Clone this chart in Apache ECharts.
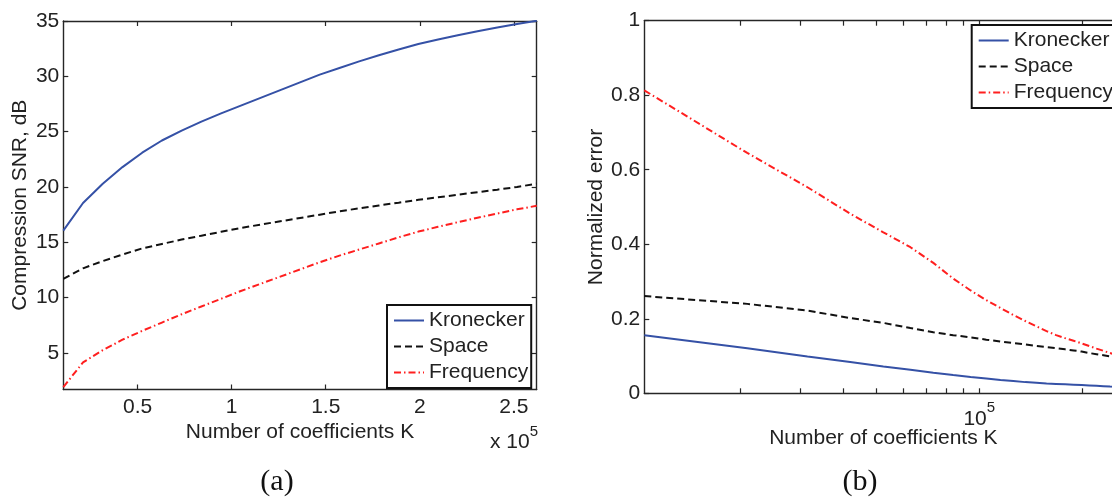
<!DOCTYPE html>
<html>
<head>
<meta charset="utf-8">
<script src="https://cdn.jsdelivr.net/npm/echarts@6/dist/echarts.min.js"></script>
<style>
  html, body { margin: 0; padding: 0; background: #fff; overflow: hidden; width: 1112px; height: 499px; }
  #chart { width: 1140px; height: 499px; }
</style>
</head>
<body>
<div id="chart"></div>
<script>
// Number of retained coefficients K (shared by both panels)
const K = [10486, 20972, 31457, 41943, 52429, 62915, 73400, 83886, 94372, 104858,
           115343, 125829, 136315, 146801, 157286, 167772, 178258, 188744, 199229, 209715,
           220201, 230687, 241172, 251658, 262144];

// (a) compression SNR in dB
const snrKronecker = [16.06, 18.55, 20.3, 21.8, 23.1, 24.2, 25.1, 25.9, 26.65, 27.35,
                      28.05, 28.75, 29.45, 30.15, 30.75, 31.35, 31.9, 32.42, 32.92, 33.33,
                      33.72, 34.07, 34.41, 34.73, 35.02];
const snrSpace = [11.7, 12.65, 13.3, 13.9, 14.45, 14.85, 15.25, 15.6, 15.95, 16.3,
                  16.6, 16.9, 17.2, 17.5, 17.8, 18.07, 18.33, 18.58, 18.84, 19.07,
                  19.3, 19.53, 19.76, 20.0, 20.3];
const snrFrequency = [1.92, 4.15, 5.25, 6.2, 7.0, 7.75, 8.5, 9.2, 9.9, 10.6,
                      11.25, 11.9, 12.55, 13.2, 13.8, 14.35, 14.9, 15.45, 15.97, 16.4,
                      16.82, 17.22, 17.6, 17.98, 18.3];

// (b) normalized error
const errKronecker = [0.156, 0.121, 0.099, 0.084, 0.072, 0.063, 0.055, 0.049, 0.044, 0.040,
                      0.036, 0.033, 0.030, 0.028, 0.026, 0.025, 0.024, 0.023, 0.022, 0.021,
                      0.020, 0.019, 0.018, 0.0175, 0.017];
const errSpace = [0.261, 0.24, 0.222, 0.202, 0.189, 0.175, 0.164, 0.156, 0.150, 0.144,
                  0.139, 0.135, 0.131, 0.127, 0.124, 0.121, 0.118, 0.115, 0.112, 0.108,
                  0.105, 0.102, 0.099, 0.096, 0.094];
const errFrequency = [0.813, 0.645, 0.553, 0.482, 0.432, 0.392, 0.35, 0.308, 0.276, 0.25,
                      0.229, 0.21, 0.194, 0.18, 0.167, 0.156, 0.148, 0.141, 0.134, 0.127,
                      0.12, 0.114, 0.108, 0.103, 0.098];

// Tick positions
const snrTicks = [5, 10, 15, 20, 25, 30, 35];
const kLinearTicks = [50000, 100000, 150000, 200000, 250000];
const kLogTicks = [20000, 30000, 40000, 50000, 60000, 70000, 80000, 90000, 100000, 200000];
const kLogLabels = [100000];
const seriesNames = ['Kronecker', 'Space', 'Frequency'];

const FONT = '"Liberation Sans", Arial, Helvetica, sans-serif';
const SERIF = '"Liberation Serif", "DejaVu Serif", serif';
const FS = 21;
const TEXT = '#222';
const AXIS = '#262626';
const styles = {
  Kronecker: { color: '#3551a6', width: 2, type: 'solid' },
  Space: { color: '#111', width: 2, type: [7, 4] },
  Frequency: { color: '#ff1f1f', width: 2, type: [7, 3, 1.5, 3] }
};

const chart = echarts.init(document.getElementById('chart'), null, { renderer: 'canvas' });

function pairs(ys) { return K.map((k, i) => [k, ys[i]]); }

function lineSeries(name, ys, xi, yi) {
  const s = styles[name];
  return {
    name, type: 'line', xAxisIndex: xi, yAxisIndex: yi,
    data: pairs(ys), symbol: 'none', smooth: false, animation: false,
    lineStyle: { color: s.color, width: s.width, type: s.type },
    itemStyle: { color: s.color }
  };
}

const tickBase = { show: true, inside: true, length: 5, lineStyle: { color: AXIS, width: 1.2 } };
const lineBase = { show: true, onZero: false, lineStyle: { color: AXIS, width: 1.4 } };
const labelBase = { color: TEXT, fontFamily: FONT, fontSize: FS };
const supRich = {
  m: { fontFamily: FONT, fontSize: FS, color: TEXT, lineHeight: 29, verticalAlign: 'bottom' },
  s: { fontFamily: FONT, fontSize: 15, color: TEXT, lineHeight: 15, verticalAlign: 'top' }
};

function legendAt(left, top) {
  return {
    orient: 'vertical', left, top,
    itemWidth: 30, itemHeight: 20, itemGap: 5,
    padding: [5, 3, 5, 6],
    borderColor: '#111', borderWidth: 2, backgroundColor: '#fff',
    selectedMode: false,
    itemStyle: { opacity: 0 },
    lineStyle: { width: 2 },
    textStyle: { color: TEXT, fontFamily: FONT, fontSize: FS, lineHeight: 20 },
    data: seriesNames
  };
}

const option = {
  backgroundColor: '#fff',
  animation: false,
  grid: [
    { left: 63.3, top: 21, width: 473.4, height: 368.5 },
    { left: 644.3, top: 20.7, width: 478.1, height: 372.6 }
  ],
  legend: [legendAt(387, 305), legendAt(971.7, 25)],
  xAxis: [
    { // (a) bottom
      type: 'value', gridIndex: 0, min: K[0], max: K[K.length - 1],
      axisLine: lineBase, splitLine: { show: false },
      axisTick: Object.assign({}, tickBase, { customValues: kLinearTicks }),
      axisLabel: Object.assign({}, labelBase, { customValues: kLinearTicks, margin: 7,
        formatter: v => String(+(v / 1e5).toFixed(1)) }),
      name: 'Number of coefficients K', nameLocation: 'middle', nameGap: 32,
      nameMoveOverlap: false, nameTextStyle: labelBase
    },
    { // (a) top mirror
      type: 'value', gridIndex: 0, position: 'top', min: K[0], max: K[K.length - 1],
      axisLine: lineBase, splitLine: { show: false },
      axisTick: Object.assign({}, tickBase, { customValues: kLinearTicks }),
      axisLabel: { show: false }
    },
    { // (b) bottom, logarithmic
      type: 'log', logBase: 10, gridIndex: 1, min: K[0], max: K[K.length - 1],
      axisLine: lineBase, splitLine: { show: false }, minorTick: { show: false },
      axisTick: Object.assign({}, tickBase, { customValues: kLogTicks }),
      axisLabel: Object.assign({}, labelBase, { customValues: kLogLabels, margin: 7,
        formatter: () => '{m|10}{s|5}', rich: supRich }),
      name: 'Number of coefficients K', nameLocation: 'middle', nameGap: 34,
      nameMoveOverlap: false, nameTextStyle: labelBase
    },
    { // (b) top mirror
      type: 'log', logBase: 10, gridIndex: 1, position: 'top', min: K[0], max: K[K.length - 1],
      axisLine: lineBase, splitLine: { show: false },
      axisTick: Object.assign({}, tickBase, { customValues: kLogTicks }),
      axisLabel: { show: false }
    }
  ],
  yAxis: [
    { // (a) left
      type: 'value', gridIndex: 0, min: 1.7, max: 35,
      axisLine: lineBase, splitLine: { show: false },
      axisTick: Object.assign({}, tickBase, { customValues: snrTicks }),
      axisLabel: Object.assign({}, labelBase, { customValues: snrTicks, margin: 4 }),
      name: 'Compression SNR, dB', nameLocation: 'middle', nameGap: 33,
      nameMoveOverlap: false, nameTextStyle: labelBase
    },
    { // (a) right mirror
      type: 'value', gridIndex: 0, position: 'right', min: 1.7, max: 35,
      axisLine: lineBase, splitLine: { show: false },
      axisTick: Object.assign({}, tickBase, { customValues: snrTicks }),
      axisLabel: { show: false }
    },
    { // (b) left
      type: 'value', gridIndex: 1, min: 0, max: 1, interval: 0.2,
      axisLine: lineBase, splitLine: { show: false },
      axisTick: tickBase,
      axisLabel: Object.assign({}, labelBase, { margin: 4 }),
      name: 'Normalized error', nameLocation: 'middle', nameGap: 38,
      nameMoveOverlap: false, nameTextStyle: labelBase
    },
    { // (b) right mirror
      type: 'value', gridIndex: 1, position: 'right', min: 0, max: 1, interval: 0.2,
      axisLine: lineBase, splitLine: { show: false },
      axisTick: tickBase,
      axisLabel: { show: false }
    }
  ],
  graphic: [
    { // scale factor of the linear K axis
      type: 'text', right: 1140 - 538, top: 424,
      style: { text: '{m|x 10}{s|5}', fill: TEXT, rich: supRich }
    },
    { type: 'text', x: 277, y: 482,
      style: { text: '(a)', fontFamily: SERIF, fontSize: 30, fill: '#111',
               align: 'center', verticalAlign: 'middle' } },
    { type: 'text', x: 860, y: 482,
      style: { text: '(b)', fontFamily: SERIF, fontSize: 30, fill: '#111',
               align: 'center', verticalAlign: 'middle' } }
  ],
  series: [
    lineSeries('Kronecker', snrKronecker, 0, 0),
    lineSeries('Space', snrSpace, 0, 0),
    lineSeries('Frequency', snrFrequency, 0, 0),
    lineSeries('Kronecker', errKronecker, 2, 2),
    lineSeries('Space', errSpace, 2, 2),
    lineSeries('Frequency', errFrequency, 2, 2)
  ]
};

chart.setOption(option);
</script>
</body>
</html>
